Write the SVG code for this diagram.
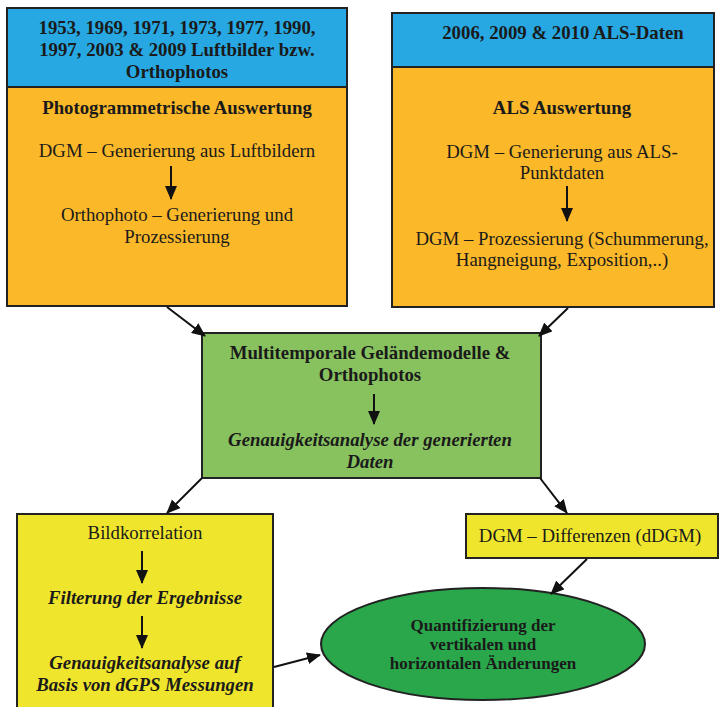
<svg xmlns="http://www.w3.org/2000/svg" width="720" height="707" viewBox="0 0 720 707">
<style>
.t{font-family:"Liberation Serif","Times New Roman",serif;font-size:18.8px;fill:#1a1a1a;text-anchor:middle}
.b{font-weight:bold}
.i{font-style:italic}
.box{stroke:#222;stroke-width:2}
.blue{fill:#27a8e2}
.orange{fill:#fbb829}
.green{fill:#88c25f}
.yellow{fill:#efe52c}
.ell{fill:#29a74a}
.c{stroke:#111;stroke-width:2;fill:none;marker-end:url(#ah)}
</style>
<defs>
<marker id="ah" markerUnits="userSpaceOnUse" markerWidth="14" markerHeight="12" refX="13" refY="6" orient="auto">
<path d="M0,0 L14,6 L0,12 z" fill="#111"/>
</marker>
</defs>
<rect width="720" height="707" fill="#fff"/>
<g id="left-top">
<rect class="box orange" x="7" y="8" width="340" height="298"/>
<rect class="box blue" x="7" y="8" width="340" height="79"/>
<text class="t b" x="177" y="34">1953, 1969, 1971, 1973, 1977, 1990,</text>
<text class="t b" x="177" y="56">1997, 2003 &amp; 2009 Luftbilder bzw.</text>
<text class="t b" x="177" y="78">Orthophotos</text>
<text class="t b" x="177" y="114">Photogrammetrische Auswertung</text>
<text class="t" x="177" y="157">DGM – Generierung aus Luftbildern</text>
<line class="c" x1="171" y1="166" x2="171" y2="199"/>
<text class="t" x="177" y="221">Orthophoto – Generierung und</text>
<text class="t" x="177" y="243">Prozessierung</text>
</g>
<g id="right-top">
<rect class="box orange" x="392" y="13" width="322" height="294"/>
<rect class="box blue" x="392" y="13" width="322" height="54"/>
<text class="t b" x="563" y="39">2006, 2009 &amp; 2010 ALS-Daten</text>
<text class="t b" x="562" y="114">ALS Auswertung</text>
<text class="t" x="562" y="158">DGM – Generierung aus ALS-</text>
<text class="t" x="562" y="179">Punktdaten</text>
<line class="c" x1="567" y1="186" x2="567" y2="221"/>
<text class="t" x="562" y="245">DGM – Prozessierung (Schummerung,</text>
<text class="t" x="562" y="266">Hangneigung, Exposition,..)</text>
</g>
<g id="center">
<rect class="box green" x="202" y="333" width="339" height="145"/>
<text class="t b" x="370" y="359">Multitemporale Geländemodelle &amp;</text>
<text class="t b" x="370" y="381">Orthophotos</text>
<line class="c" x1="374" y1="394" x2="374" y2="424"/>
<text class="t b i" x="370" y="446">Genauigkeitsanalyse der generierten</text>
<text class="t b i" x="370" y="468">Daten</text>
</g>
<g id="bildkorrelation">
<rect class="box yellow" x="17" y="514" width="256" height="200"/>
<text class="t" x="145" y="539">Bildkorrelation</text>
<line class="c" x1="142" y1="551" x2="142" y2="583"/>
<text class="t b i" x="145" y="604">Filterung der Ergebnisse</text>
<line class="c" x1="142" y1="616" x2="142" y2="648"/>
<text class="t b i" x="145" y="669">Genauigkeitsanalyse auf</text>
<text class="t b i" x="145" y="691">Basis von dGPS Messungen</text>
</g>
<g id="ddgm">
<rect class="box yellow" x="466" y="514" width="252" height="44"/>
<text class="t" x="590" y="542">DGM – Differenzen (dDGM)</text>
</g>
<g id="quantifizierung">
<ellipse class="box ell" cx="483" cy="644" rx="162" ry="56"/>
<text class="t b" style="font-size:17px" x="483" y="631">Quantifizierung der</text>
<text class="t b" style="font-size:17px" x="483" y="650">vertikalen und</text>
<text class="t b" style="font-size:17px" x="483" y="669">horizontalen Änderungen</text>
</g>
<g id="connectors">
<line class="c" x1="167" y1="307" x2="205" y2="336"/>
<line class="c" x1="568" y1="308" x2="539" y2="336"/>
<line class="c" x1="202" y1="478" x2="167" y2="513"/>
<line class="c" x1="540" y1="478" x2="567" y2="513"/>
<line class="c" x1="587" y1="559" x2="551" y2="594"/>
<line class="c" x1="274" y1="667" x2="320" y2="655"/>
</g>
</svg>
